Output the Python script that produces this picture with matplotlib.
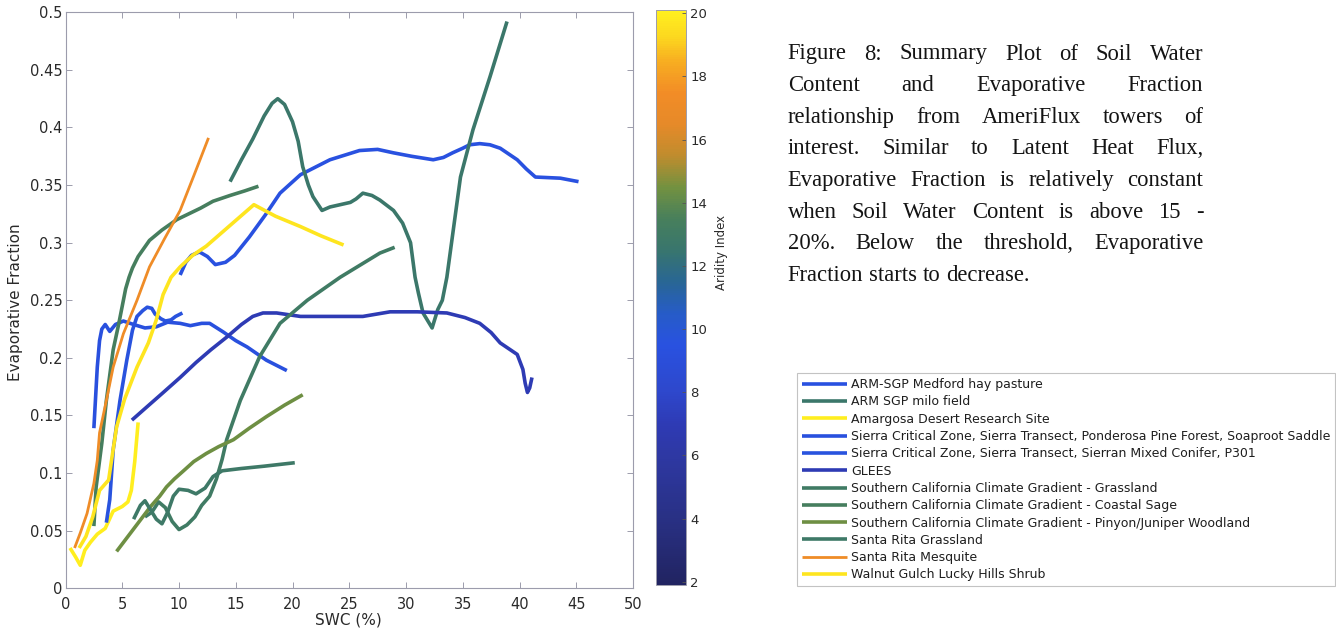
import matplotlib
matplotlib.use("Agg")
import matplotlib.pyplot as plt
from matplotlib.colors import LinearSegmentedColormap, Normalize
from matplotlib.cm import ScalarMappable
from matplotlib.ticker import FuncFormatter, MultipleLocator

# ---- site names and aridity index ------------------------------------------
sites = [
    "ARM-SGP Medford hay pasture",
    "ARM SGP milo field",
    "Amargosa Desert Research Site",
    "Sierra Critical Zone, Sierra Transect, Ponderosa Pine Forest, Soaproot Saddle",
    "Sierra Critical Zone, Sierra Transect, Sierran Mixed Conifer, P301",
    "GLEES",
    "Southern California Climate Gradient - Grassland",
    "Southern California Climate Gradient - Coastal Sage",
    "Southern California Climate Gradient - Pinyon/Juniper Woodland",
    "Santa Rita Grassland",
    "Santa Rita Mesquite",
    "Walnut Gulch Lucky Hills Shrub",
]
aridity = [9.5, 12.7, 20.0, 9.3, 9.6, 7.0, 13.0, 13.4, 14.4, 12.9, 17.2, 19.7]

# ---- SWC (%) and evaporative fraction per site ----------------------------
swc_medford = [10.1, 10.6, 11.1, 11.8, 12.5, 13.2, 14.1, 14.9, 16.2, 17.6, 18.9, 20.7, 23.3,
               25.9, 27.5, 28.9, 30.5, 32.4, 33.3, 34.1, 35.0, 35.6, 36.5, 37.4, 38.3, 39.8,
               40.6, 41.4, 43.6, 45.2]
ef_medford = [0.272, 0.283, 0.289, 0.292, 0.288, 0.281, 0.283, 0.289, 0.305, 0.324, 0.343,
              0.359, 0.372, 0.380, 0.381, 0.378, 0.375, 0.372, 0.374, 0.378, 0.382, 0.385,
              0.386, 0.385, 0.382, 0.372, 0.364, 0.357, 0.356, 0.353]

swc_milo = [14.5, 15.5, 16.5, 17.5, 18.2, 18.7, 19.3, 20.0, 20.5, 20.9, 21.4, 21.8, 22.6, 23.3,
            24.2, 25.1, 25.6, 26.2, 27.0, 27.7, 28.9, 29.7, 30.4, 30.8, 31.1, 31.5, 32.3, 32.8,
            33.2, 33.6, 34.0, 34.8, 35.9, 37.4, 38.9]
ef_milo = [0.353, 0.372, 0.390, 0.410, 0.421, 0.425, 0.420, 0.405, 0.388, 0.366, 0.350, 0.340,
           0.328, 0.331, 0.333, 0.335, 0.338, 0.343, 0.341, 0.337, 0.328, 0.317, 0.300, 0.270,
           0.256, 0.239, 0.226, 0.242, 0.250, 0.270, 0.299, 0.357, 0.398, 0.444, 0.492]

swc_amargosa = [0.4, 0.9, 1.3, 1.7, 2.2, 2.8, 3.5, 4.2, 5.0, 5.5, 5.8, 6.1, 6.4]
ef_amargosa = [0.035, 0.027, 0.020, 0.033, 0.040, 0.047, 0.052, 0.067, 0.071, 0.075, 0.085,
               0.110, 0.144]

swc_soaproot = [2.5, 2.8, 3.0, 3.2, 3.5, 3.9, 4.4, 5.1, 6.0, 7.0, 8.0, 9.0, 10.1, 11.0, 12.0,
                12.7, 13.9, 15.0, 16.0, 17.7, 19.5]
ef_soaproot = [0.139, 0.192, 0.215, 0.225, 0.229, 0.223, 0.229, 0.232, 0.229, 0.226, 0.227,
               0.231, 0.230, 0.228, 0.230, 0.230, 0.2225, 0.215, 0.2095, 0.198, 0.189]

swc_p301 = [3.6, 3.9, 4.2, 4.8, 5.4, 5.9, 6.3, 6.8, 7.2, 7.6, 7.9, 8.4, 8.8, 9.3, 9.7, 10.3]
ef_p301 = [0.057, 0.077, 0.120, 0.163, 0.198, 0.224, 0.236, 0.241, 0.244, 0.243, 0.238,
           0.234, 0.232, 0.233, 0.236, 0.239]

swc_glees = [5.85, 7.0, 8.5, 10.1, 11.5, 12.8, 14.2, 15.5, 16.5, 17.4, 18.6, 20.7, 23.3, 26.2,
             28.6, 31.0, 33.6, 35.2, 36.5, 37.5, 38.3, 39.2, 39.8, 40.3, 40.5, 40.7, 40.9, 41.1]
ef_glees = [0.146, 0.156, 0.169, 0.183, 0.196, 0.207, 0.218, 0.229, 0.236, 0.239, 0.239, 0.236,
            0.236, 0.236, 0.240, 0.240, 0.239, 0.235, 0.230, 0.222, 0.213, 0.207, 0.203, 0.190,
            0.178, 0.170, 0.174, 0.183]

swc_sc_grass = [7.0, 7.6, 8.2, 8.8, 9.4, 10.0, 10.7, 11.4, 12.0, 12.7, 13.3, 13.8, 14.2, 15.4,
                17.1, 18.9, 21.3, 24.2, 27.7, 29.0]
ef_sc_grass = [0.062, 0.066, 0.075, 0.070, 0.058, 0.051, 0.055, 0.062, 0.072, 0.080, 0.095,
               0.112, 0.129, 0.163, 0.201, 0.230, 0.250, 0.270, 0.291, 0.296]

swc_sc_sage = [2.5, 2.7, 3.2, 3.6, 4.2, 4.7, 5.0, 5.3, 5.6, 5.9, 6.4, 7.4, 8.5, 9.8, 11.9, 13.0,
               14.5, 15.8, 17.0]
ef_sc_sage = [0.054, 0.088, 0.126, 0.163, 0.207, 0.230, 0.245, 0.260, 0.270, 0.278, 0.288,
              0.302, 0.311, 0.320, 0.330, 0.336, 0.341, 0.345, 0.349]

swc_sc_pinyon = [4.5, 5.5, 6.5, 7.5, 8.3, 8.9, 9.6, 10.4, 11.3, 12.4, 13.5, 14.8, 16.2, 17.7,
                 19.3, 20.9]
ef_sc_pinyon = [0.032, 0.045, 0.058, 0.071, 0.080, 0.088, 0.095, 0.102, 0.110, 0.117, 0.123,
                0.129, 0.139, 0.149, 0.159, 0.168]

swc_sr_grass = [6.0, 6.6, 7.0, 7.5, 8.0, 8.5, 9.0, 9.5, 10.0, 10.8, 11.5, 12.3, 13.0, 13.8,
                15.5, 17.5, 20.2]
ef_sr_grass = [0.060, 0.072, 0.076, 0.068, 0.060, 0.056, 0.066, 0.080, 0.086, 0.085, 0.082,
               0.087, 0.097, 0.102, 0.104, 0.106, 0.109]

swc_sr_mesquite = [0.8, 1.3, 1.9, 2.5, 2.8, 3.0, 3.6, 4.2, 5.1, 6.3, 7.4, 8.7, 10.1, 11.3, 12.6]
ef_sr_mesquite = [0.035, 0.048, 0.065, 0.091, 0.111, 0.135, 0.163, 0.192, 0.221, 0.250, 0.279,
                  0.303, 0.328, 0.358, 0.391]

swc_walnut = [1.2, 1.8, 2.4, 3.0, 3.8, 4.1, 4.5, 5.2, 6.3, 7.3, 8.0, 8.6, 9.3, 10.1, 11.2, 12.4,
              14.5, 16.6, 18.5, 20.7, 22.5, 24.5]
ef_walnut = [0.035, 0.045, 0.062, 0.085, 0.094, 0.114, 0.140, 0.164, 0.192, 0.213, 0.233, 0.255,
             0.270, 0.279, 0.289, 0.297, 0.315, 0.333, 0.323, 0.314, 0.306, 0.298]

swc_all = [swc_medford, swc_milo, swc_amargosa, swc_soaproot, swc_p301, swc_glees,
           swc_sc_grass, swc_sc_sage, swc_sc_pinyon, swc_sr_grass, swc_sr_mesquite, swc_walnut]
ef_all = [ef_medford, ef_milo, ef_amargosa, ef_soaproot, ef_p301, ef_glees,
          ef_sc_grass, ef_sc_sage, ef_sc_pinyon, ef_sr_grass, ef_sr_mesquite, ef_walnut]

caption_lines = [
    "Figure 8: Summary Plot of Soil Water",
    "Content and Evaporative Fraction",
    "relationship from AmeriFlux towers of",
    "interest. Similar to Latent Heat Flux,",
    "Evaporative Fraction is relatively constant",
    "when Soil Water Content is above 15 -",
    "20%. Below the threshold, Evaporative",
    "Fraction starts to decrease.",
]

# ---- colour scale for the aridity index -----------------------------------
vmin, vmax = 1.9, 20.1
cmap_stops = [
    (vmin, (0.13, 0.14, 0.38)),
    (4.0, (0.16, 0.19, 0.52)),
    (6.0, (0.18, 0.22, 0.64)),
    (7.0, (0.18, 0.23, 0.71)),
    (8.0, (0.18, 0.28, 0.80)),
    (9.5, (0.16, 0.32, 0.88)),
    (10.5, (0.15, 0.36, 0.78)),
    (11.5, (0.16, 0.40, 0.58)),
    (12.5, (0.22, 0.46, 0.43)),
    (13.5, (0.28, 0.50, 0.36)),
    (14.5, (0.45, 0.57, 0.25)),
    (15.5, (0.75, 0.55, 0.18)),
    (16.5, (0.90, 0.54, 0.16)),
    (17.5, (0.95, 0.55, 0.15)),
    (18.5, (0.97, 0.68, 0.13)),
    (19.3, (0.99, 0.85, 0.12)),
    (vmax, (1.00, 0.94, 0.12)),
]
aridity_cmap = LinearSegmentedColormap.from_list(
    "aridity", [((v - vmin) / (vmax - vmin), c) for v, c in cmap_stops])
norm = Normalize(vmin=vmin, vmax=vmax)

W, H = 1336, 633
fig = plt.figure(figsize=(W / 100, H / 100), dpi=100)
fig.patch.set_facecolor("white")

spine_col = "#9c9cac"
text_col = "#2a2a2a"

ax = fig.add_axes([65.5 / W, 1 - 588.3 / H, 567.5 / W, 576 / H])
handles = []
for name, a, x, y in zip(sites, aridity, swc_all, ef_all):
    lw = 2.0 if 16.5 < a < 18 else 2.6
    (ln,) = ax.plot(x, y, color=aridity_cmap(norm(a)), lw=lw, solid_capstyle="butt",
                    solid_joinstyle="round", label=name)
    handles.append(ln)

ax.set_xlim(0, 50)
ax.set_ylim(0, 0.5)
ax.xaxis.set_major_locator(MultipleLocator(5))
ax.yaxis.set_major_locator(MultipleLocator(0.05))
ax.yaxis.set_major_formatter(FuncFormatter(lambda v, p: "%g" % round(v, 2)))
ax.tick_params(direction="in", length=4, width=0.7, color=spine_col, top=True, right=True,
               labelsize=10.5, labelcolor=text_col)
ax.tick_params(axis="x", pad=6)
ax.tick_params(axis="y", pad=2)
for s in ax.spines.values():
    s.set_color(spine_col)
    s.set_linewidth(0.8)
ax.text(-0.088, 0.497, "Evaporative Fraction", transform=ax.transAxes, rotation=90,
        ha="center", va="center", fontsize=11, color=text_col)
ax.text(0.498, -0.055, "SWC (%)", transform=ax.transAxes, ha="center", va="center",
        fontsize=11, color=text_col)

# colour bar
cax = fig.add_axes([656 / W, 1 - 585 / H, 30 / W, 575 / H])
cb = fig.colorbar(ScalarMappable(norm=norm, cmap=aridity_cmap), cax=cax)
cb.set_ticks(list(range(2, 21, 2)))
cb.outline.set_edgecolor(spine_col)
cb.outline.set_linewidth(0.7)
cax.tick_params(direction="in", length=3, width=0.6, color="#555555", labelsize=9.5,
                labelcolor=text_col, pad=3)
cax.text(2.2, 0.579, "Aridity Index", transform=cax.transAxes, rotation=90,
         ha="center", va="center", fontsize=8.5, color=text_col)

# legend
leg = fig.legend(handles=handles, loc="upper left", bbox_to_anchor=(797 / W, 1 - 373 / H),
                 bbox_transform=fig.transFigure, fontsize=9, frameon=True, fancybox=False,
                 edgecolor="#b4b4b4", handlelength=3.6, handletextpad=0.3,
                 labelspacing=0.345, borderpad=0.4, borderaxespad=0)
leg.get_frame().set_linewidth(0.8)
for t in leg.get_texts():
    t.set_color("#1e1e1e")

# justified caption block
renderer = fig.canvas.get_renderer()
cap_kw = dict(family="Liberation Serif", fontsize=16.3, color="#141414", va="baseline")
x_left, x_right = 787.7, 1203.3
base0, step = H - 59.5, 31.6
probe = fig.text(0, 0, "a a", **cap_kw)
probe2 = fig.text(0, 0, "aa", **cap_kw)
space_w = probe.get_window_extent(renderer).width - probe2.get_window_extent(renderer).width
probe.remove()
probe2.remove()
for i, line in enumerate(caption_lines):
    words = line.split()
    yb = base0 - i * step
    texts = [fig.text(0, yb / H, w, **cap_kw) for w in words]
    widths = [t.get_window_extent(renderer).width for t in texts]
    if i == len(caption_lines) - 1 or len(words) == 1:
        gap = space_w
    else:
        gap = max(space_w * 0.6, (x_right - x_left - sum(widths)) / (len(words) - 1))
    xpos = x_left
    for t, w in zip(texts, widths):
        t.set_x(xpos / W)
        xpos += w + gap

fig.savefig("out.png", dpi=100, facecolor="white")
